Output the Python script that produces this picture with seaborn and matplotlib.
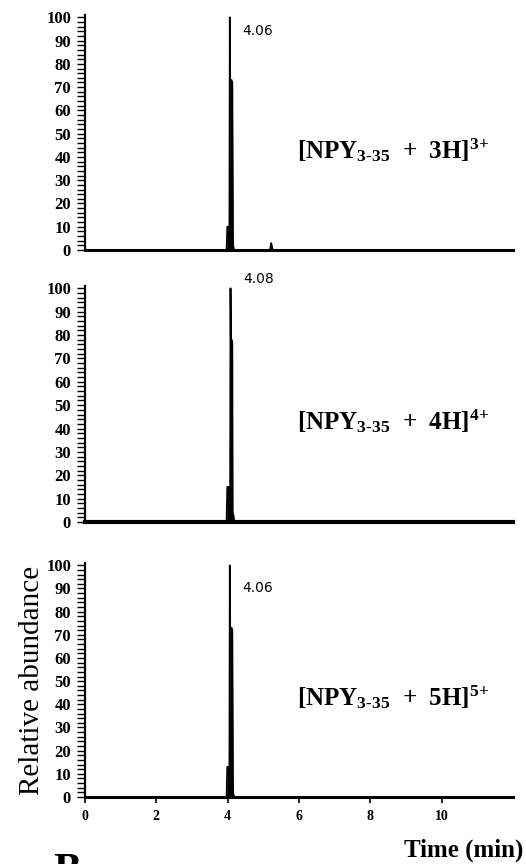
import numpy as np
import pandas as pd
import matplotlib
matplotlib.use("Agg")
import matplotlib.pyplot as plt
from matplotlib.ticker import MultipleLocator
import seaborn as sns

# Extracted ion chromatograms (time in min, relative abundance in %)
time_3h = [0.0, 3.97, 3.99, 4.01, 4.03, 4.05, 4.06, 4.07, 4.09, 4.11, 4.13, 4.15, 4.18, 5.14, 5.19, 5.22, 5.26, 12.0]
abund_3h = [0, 0, 10, 10, 10, 9, 100, 73, 73, 73, 72, 2, 0, 0, 0, 3, 0, 0]

time_4h = [0.0, 3.97, 3.99, 4.01, 4.03, 4.06, 4.07, 4.08, 4.09, 4.11, 4.13, 4.14, 4.16, 4.19, 12.0]
abund_4h = [0, 0, 15, 15, 15, 14, 14, 100, 78, 78, 77, 4, 3, 0, 0]

time_5h = [0.0, 3.97, 3.99, 4.01, 4.03, 4.05, 4.06, 4.07, 4.09, 4.11, 4.13, 4.15, 4.18, 12.0]
abund_5h = [0, 0, 13, 13, 13, 12, 100, 73, 73, 73, 72, 2, 0, 0]

peak_times = [4.06, 4.08, 4.06]
peak_label_y = [94, 104, 90]
ion_labels = [
    r"[NPY$_{3\text{-}35}$  +  3H]$^{3{+}}$",
    r"[NPY$_{3\text{-}35}$  +  4H]$^{4{+}}$",
    r"[NPY$_{3\text{-}35}$  +  5H]$^{5{+}}$",
]
x_ticks = [0, 2, 4, 6, 8, 10]
y_ticks = [0, 10, 20, 30, 40, 50, 60, 70, 80, 90, 100]

sns.set_theme(style="white")
plt.rcParams["font.family"] = ["Liberation Serif", "DejaVu Serif"]
plt.rcParams["mathtext.fontset"] = "custom"
plt.rcParams["mathtext.rm"] = "Liberation Serif:bold"
plt.rcParams["mathtext.bf"] = "Liberation Serif:bold"
plt.rcParams["mathtext.it"] = "Liberation Serif:bold"
for key in ("text.color", "axes.labelcolor", "xtick.color", "ytick.color"):
    plt.rcParams[key] = "black"

W, H = 526, 864
fig = plt.figure(figsize=(W / 100, H / 100), dpi=100)

# panel frames in pixels: (top, bottom)
frames = [(15, 250), (286, 522), (563, 797)]
left_px, right_px = 85, 513
base_lw = [2.2, 3.0, 2.2]

series = [(time_3h, abund_3h), (time_4h, abund_4h), (time_5h, abund_5h)]

for i, ((top, bot), (t, a)) in enumerate(zip(frames, series)):
    ax = fig.add_axes([left_px / W, 1 - bot / H, (right_px - left_px) / W, (bot - top) / H])
    df = pd.DataFrame({"time": t, "abundance": a})
    sns.lineplot(data=df, x="time", y="abundance", ax=ax, color="black",
                 linewidth=1.3, estimator=None, sort=False)
    ax.fill_between(df["time"], 0, df["abundance"], color="black", linewidth=0)
    ax.set_xlim(0, 12)
    ax.set_ylim(0, 101)
    ax.set_xlabel("")
    ax.set_ylabel("")
    for s in ("top", "right"):
        ax.spines[s].set_visible(False)
    ax.spines["left"].set_linewidth(1.6)
    ax.spines["left"].set_color("black")
    ax.spines["bottom"].set_linewidth(base_lw[i])
    ax.spines["bottom"].set_color("black")
    ax.set_yticks(y_ticks)
    ax.yaxis.set_minor_locator(MultipleLocator(2))
    ax.tick_params(axis="y", which="both", direction="out", length=6, width=1,
                   color="black", left=True, pad=4)
    ax.tick_params(axis="y", which="major", labelsize=12)
    for lab in ax.get_yticklabels():
        lab.set_fontweight("bold")
    if i < 2:
        ax.set_xticks([])
    else:
        ax.set_xticks(x_ticks)
        ax.tick_params(axis="x", which="major", direction="out", length=4, width=1.2,
                       color="black", bottom=True, labelsize=10, pad=5)
        for lab in ax.get_xticklabels():
            lab.set_fontweight("bold")
        ax.set_ylabel("Relative abundance", fontsize=21, labelpad=1)
    ax.text(peak_times[i] + 0.35, peak_label_y[i], f"{peak_times[i]:.2f}",
            fontsize=10, family="DejaVu Sans", va="center", ha="left", clip_on=False)
    ax.text(5.95, 43, ion_labels[i], fontsize=18, fontweight="bold",
            va="center", ha="left")

fig.text(523 / W, 1 - 850 / H, "Time (min)", fontsize=18, fontweight="bold",
         ha="right", va="center")
fig.text(53 / W, 1 - 853 / H, "B", fontsize=30, fontweight="bold", ha="left", va="top")

fig.savefig("out.png", dpi=100)
